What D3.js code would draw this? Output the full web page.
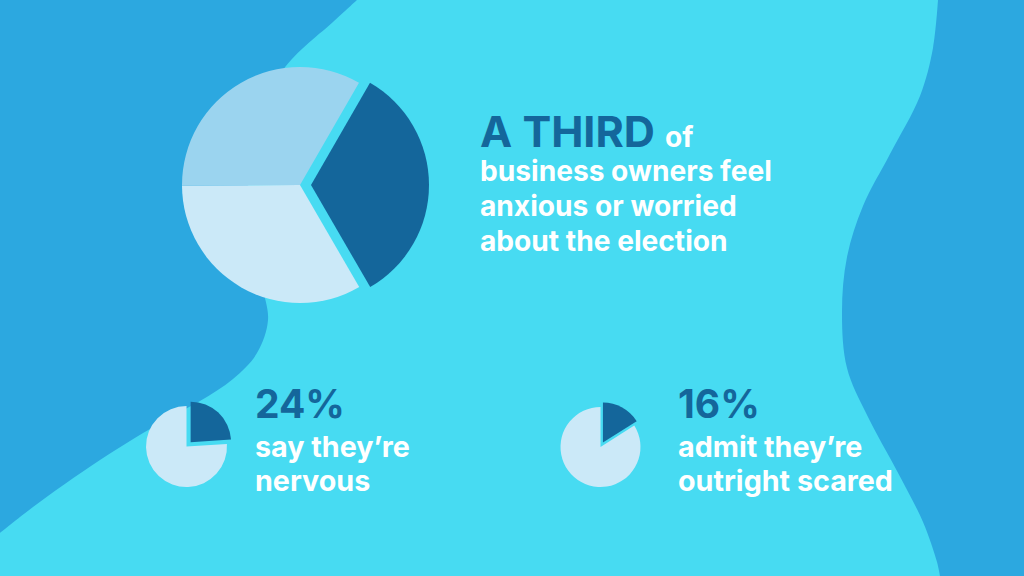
<!DOCTYPE html>
<html>
<head>
<meta charset="utf-8">
<script src="https://cdn.jsdelivr.net/npm/d3@7"></script>
<style>
  html, body { margin: 0; padding: 0; background: #47dbf2; }
  svg { display: block; }
  text { font-family: Inter, "Open Sans", sans-serif; font-weight: 700; }
</style>
</head>
<body>
<svg id="chart" width="1024" height="576"></svg>
<script>
// values
var mainShares = [33.3, 33.3, 33.4];          // worried (highlighted), rest, rest
var smallShares = [[24, 76], [16, 84]];       // highlighted share, remainder
var bigStat = "A THIRD";
var bigStatTail = "of";
var bigLines = ["business owners feel", "anxious or worried", "about the election"];
var smallStats = ["24%", "16%"];
var smallLines = [["say they\u2019re", "nervous"], ["admit they\u2019re", "outright scared"]];

var W = 1024, H = 576;
var svg = d3.select("#chart");

var cyan = "#47dbf2", deep = "#2ca8e0", navy = "#14669b";
var mainColors = [navy, "#cbe9f8", "#9bd4ef"];
var smallColors = [navy, "#cbe9f8"];

// background waves
var wave = d3.line().curve(d3.curveCatmullRom.alpha(0.5));
var leftEdge = [[357, 0], [345, 11], [333, 22], [283, 70], [252, 140], [250, 220], [262, 285],
  [268, 320], [257, 353], [233, 379], [200, 401], [167, 419], [100, 460], [33, 507], [0, 533]];
var rightEdge = [[938, 0], [933, 48], [920, 96], [890, 154], [863, 206], [847, 257], [842, 312],
  [847, 368], [867, 415], [897, 471], [923, 522], [937, 562], [940, 576]];

svg.append("rect").attr("width", W).attr("height", H).attr("fill", cyan);
svg.append("path")
  .attr("d", "M0,0" + wave(leftEdge).replace(/^M/, "L") + "Z")
  .attr("fill", deep);
svg.append("path")
  .attr("d", wave(rightEdge) + "L" + W + "," + H + "L" + W + ",0Z")
  .attr("fill", deep);

function drawPie(cx, cy, r, values, colors, start, offset) {
  var pie = d3.pie().sort(null).startAngle(start).endAngle(start + 2 * Math.PI);
  var arc = d3.arc().innerRadius(0).outerRadius(r);
  var g = svg.append("g").attr("transform", "translate(" + cx + "," + cy + ")");
  g.selectAll("path")
    .data(pie(values))
    .enter()
    .append("path")
    .attr("d", arc)
    .attr("fill", function(d, i) { return colors[i]; })
    .attr("transform", function(d, i) {
      if (i !== 0) return null;
      var mid = (d.startAngle + d.endAngle) / 2;
      return "translate(" + (offset * Math.sin(mid)) + "," + (-offset * Math.cos(mid)) + ")";
    });
}

drawPie(300, 185, 118, mainShares, mainColors, Math.PI / 6, 11);
drawPie(186.5, 446.5, 40.5, smallShares[0], smallColors, 0, 6);
drawPie(600.5, 447, 40, smallShares[1], smallColors, 0, 5);

// scale a font size so a string spans the wanted width
function fitSize(str, width) {
  var t = svg.append("text").attr("font-size", 100).text(str);
  var w = t.node().getComputedTextLength();
  t.remove();
  return 100 * width / w;
}

var headSize = fitSize(bigStat, 175);
var head = svg.append("text").attr("x", 480).attr("y", 147)
  .attr("font-size", headSize).attr("fill", navy).text(bigStat);
var headW = head.node().getComputedTextLength();
var bodySize = fitSize(bigLines[0], 292);
svg.append("text").attr("x", 480 + headW + 10).attr("y", 147)
  .attr("font-size", bodySize).attr("fill", "#fff").text(bigStatTail);
svg.selectAll("text.big")
  .data(bigLines)
  .enter()
  .append("text")
  .attr("class", "big")
  .attr("x", 480)
  .attr("y", function(d, i) { return 181 + i * 35; })
  .attr("font-size", bodySize)
  .attr("fill", "#fff")
  .text(function(d) { return d; });

var statSize = fitSize(smallStats[0], 90);
var labSize = fitSize(smallLines[1][1], 215);
var statX = [255, 678];
smallStats.forEach(function(s, k) {
  svg.append("text").attr("x", statX[k]).attr("y", 418)
    .attr("font-size", statSize).attr("fill", navy).text(s);
  svg.selectAll("text.lab" + k)
    .data(smallLines[k])
    .enter()
    .append("text")
    .attr("class", "lab" + k)
    .attr("x", statX[k])
    .attr("y", function(d, i) { return 457 + i * 34; })
    .attr("font-size", labSize)
    .attr("fill", "#fff")
    .text(function(d) { return d; });
});
</script>
</body>
</html>
